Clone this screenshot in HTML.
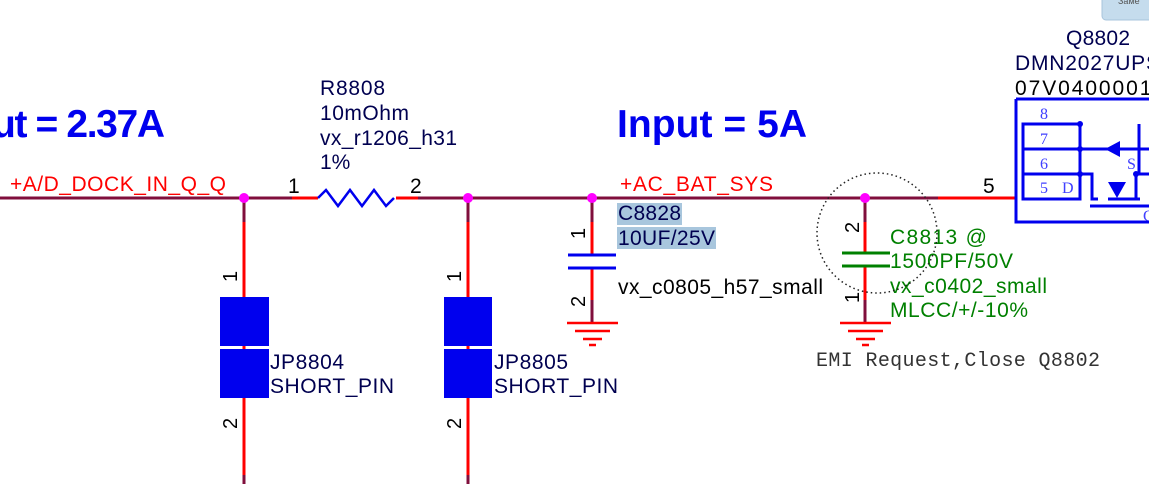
<!DOCTYPE html>
<html><head><style>body{margin:0;background:#fff}svg{display:block}</style></head><body>
<svg width="1149" height="484" viewBox="0 0 1149 484" xmlns="http://www.w3.org/2000/svg" font-family="Liberation Sans, sans-serif">
<rect x="1102" y="-6" width="60" height="26" rx="4" fill="#c5dced" stroke="#a8c4dc"/>
<text x="1118" y="4" font-size="9" fill="#555">Заме</text>
<text x="-8" y="137" font-size="39" font-weight="bold" fill="#0000ee" textLength="173">ut = 2.37A</text>
<text x="617" y="137" font-size="39" font-weight="bold" fill="#0000ee" textLength="190">Input = 5A</text>
<line x1="0" y1="198" x2="1015" y2="198" stroke="#800f3c" stroke-width="3"/>
<line x1="292" y1="198" x2="320" y2="198" stroke="#f00" stroke-width="3"/>
<line x1="393" y1="198" x2="418" y2="198" stroke="#f00" stroke-width="3"/>
<line x1="938" y1="198" x2="1016" y2="198" stroke="#f00" stroke-width="3"/>
<rect x="318" y="190" width="78" height="14" fill="#fff"/>
<polyline points="318,198 326,190 338,206 350,190 362,206 374,190 386,206 394,198" fill="none" stroke="#0000ee" stroke-width="2.5"/>
<text x="288" y="193" font-size="21">1</text>
<text x="410" y="193" font-size="21">2</text>
<text x="10" y="191" font-size="21" fill="#f00" textLength="216">+A/D_DOCK_IN_Q_Q</text>
<text x="620" y="191" font-size="21" fill="#f00" textLength="153">+AC_BAT_SYS</text>
<text x="983" y="193" font-size="21">5</text>
<g font-size="21" fill="#000050">
<text x="320" y="95" textLength="65">R8808</text><text x="320" y="120" textLength="89">10mOhm</text><text x="320" y="145" textLength="137">vx_r1206_h31</text><text x="320" y="169">1%</text>
</g>
<line x1="244" y1="198" x2="244" y2="484" stroke="#800f3c" stroke-width="3"/>
<line x1="244" y1="222" x2="244" y2="475" stroke="#f00" stroke-width="3"/>
<rect x="220" y="297" width="49" height="49" fill="#0000ee"/><rect x="220" y="349" width="49" height="49" fill="#0000ee"/>
<line x1="468" y1="198" x2="468" y2="484" stroke="#800f3c" stroke-width="3"/>
<line x1="468" y1="222" x2="468" y2="475" stroke="#f00" stroke-width="3"/>
<rect x="444" y="297" width="48" height="49" fill="#0000ee"/><rect x="444" y="349" width="48" height="49" fill="#0000ee"/>
<g font-size="20">
<text transform="translate(237,282) rotate(-90)">1</text><text transform="translate(237,429) rotate(-90)">2</text>
<text transform="translate(461,282) rotate(-90)">1</text><text transform="translate(461,429) rotate(-90)">2</text>
<text transform="translate(585,239) rotate(-90)">1</text><text transform="translate(585,307) rotate(-90)">2</text>
<text transform="translate(859,233) rotate(-90)">2</text><text transform="translate(859,303) rotate(-90)">1</text>
</g>
<g font-size="21" fill="#000050">
<text x="270" y="369" textLength="74">JP8804</text><text x="270" y="393" textLength="124">SHORT_PIN</text>
<text x="494" y="369" textLength="74">JP8805</text><text x="494" y="393" textLength="124">SHORT_PIN</text>
</g>
<line x1="592" y1="198" x2="592" y2="322" stroke="#800f3c" stroke-width="3"/>
<line x1="592" y1="222" x2="592" y2="300" stroke="#f00" stroke-width="3"/>
<rect x="585" y="256" width="14" height="11" fill="#fff"/>
<line x1="568" y1="255" x2="616" y2="255" stroke="#0000ee" stroke-width="3"/>
<line x1="568" y1="268" x2="616" y2="268" stroke="#0000ee" stroke-width="3"/>
<g stroke="#f00" stroke-width="2.5"><line x1="567" y1="323" x2="618" y2="323"/><line x1="575" y1="331" x2="610" y2="331"/><line x1="583" y1="339" x2="602" y2="339"/><line x1="589" y1="345" x2="596" y2="345"/></g>
<rect x="617" y="203" width="65" height="22" fill="#a8c6dd"/><rect x="617" y="227" width="99" height="22" fill="#a8c6dd"/>
<g font-size="21" fill="#000050"><text x="618" y="220" textLength="63">C8828</text><text x="618" y="245" textLength="97">10UF/25V</text></g>
<text x="618" y="294" font-size="21" fill="#000" textLength="205">vx_c0805_h57_small</text>
<line x1="865" y1="198" x2="865" y2="322" stroke="#800f3c" stroke-width="3"/>
<line x1="865" y1="222" x2="865" y2="300" stroke="#f00" stroke-width="3"/>
<rect x="858" y="254" width="14" height="12" fill="#fff"/>
<line x1="842" y1="253" x2="890" y2="253" stroke="#008000" stroke-width="3"/>
<line x1="842" y1="266" x2="890" y2="266" stroke="#008000" stroke-width="3"/>
<g stroke="#f00" stroke-width="2.5"><line x1="840" y1="323" x2="891" y2="323"/><line x1="848" y1="331" x2="883" y2="331"/><line x1="856" y1="339" x2="875" y2="339"/><line x1="862" y1="345" x2="869" y2="345"/></g>
<g font-size="21" fill="#008000"><text x="890" y="244" textLength="97">C8813  @</text><text x="890" y="268" textLength="123">1500PF/50V</text><text x="890" y="293" textLength="157">vx_c0402_small</text><text x="890" y="317" textLength="138">MLCC/+/-10%</text></g>
<circle cx="877" cy="233" r="60" fill="none" stroke="#222" stroke-width="1.5" stroke-dasharray="1.5,3"/>
<text x="816" y="366" font-size="20" font-family="Liberation Mono, monospace" fill="#333" textLength="284">EMI Request,Close Q8802</text>
<g fill="#ff00ff"><circle cx="244" cy="198" r="5"/><circle cx="468" cy="198" r="5"/><circle cx="592" cy="198" r="5"/><circle cx="865" cy="198" r="5"/></g>
<g font-size="21" fill="#000050"><text x="1066" y="45" textLength="64">Q8802</text><text x="1015" y="70" textLength="145">DMN2027UPS</text><text x="1015" y="95" fill="#000" textLength="150">07V04000016</text></g>
<g stroke="#0000ee" stroke-width="3" fill="none">
<path d="M1016,99 H1160 M1016,99 V222 H1160"/>
<path d="M1023,124 H1080 V199 H1023 Z M1023,149 H1080 M1023,174 H1080"/>
<path d="M1080,174 H1092 V199 H1098 M1108,199 H1140 M1139,124 V174 M1080,149 H1150 M1135,174 H1150 M1136,174 V199 M1090,206 H1150"/>
</g>
<polygon points="1105,149 1120,141 1120,157" fill="#0000ee"/>
<polygon points="1108,182 1126,182 1117,198" fill="#0000ee"/>
<g fill="#0000ee"><circle cx="1080" cy="124" r="3"/><circle cx="1080" cy="149" r="3"/><circle cx="1080" cy="174" r="3"/><circle cx="1136" cy="174" r="3"/></g>
<g font-size="16" font-family="Liberation Serif, serif" fill="#4040ff">
<text x="1040" y="119">8</text><text x="1040" y="144">7</text><text x="1040" y="169">6</text><text x="1040" y="193">5</text><text x="1062" y="193">D</text><text x="1127" y="169">S</text><text x="1143" y="221">G</text>
</g>
</svg>
</body></html>
